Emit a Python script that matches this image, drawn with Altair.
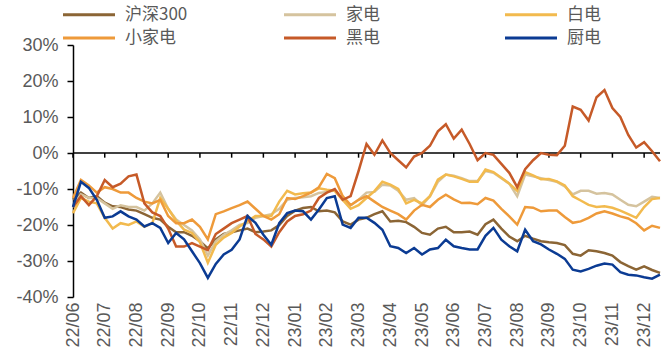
import json
import altair as alt
import pandas as pd

series_names = ["沪深300", "家电", "白电", "小家电", "黑电", "厨电"]
series_colors = ["#8B6535", "#D5C39E", "#F2BA4E", "#EE9A3A", "#C65A28", "#0B3B93"]
month_labels = ["22/06", "22/07", "22/08", "22/09", "22/10", "22/11", "22/12",
                "23/01", "23/02", "23/03", "23/04", "23/05", "23/06", "23/07",
                "23/08", "23/09", "23/10", "23/11", "23/12"]
# sample positions, in months since 22/06 (quarter-month steps)
t_months = [i / 4 for i in range(75)]

hs300 = [-13, -11, -12.5, -12, -13.8, -14.8, -15, -15.7, -16, -17,
         -18, -18.5, -20.5, -22, -22, -23, -24.5, -26.5, -24, -22.5,
         -22, -21.5, -21, -22, -21.8, -21.5, -20, -17.5, -16, -15.3,
         -15, -16.2, -16, -16.5, -19, -19.9, -18.5, -18, -17, -16.2,
         -19, -18.8, -19.2, -20.5, -22.2, -22.7, -21, -20.5, -22, -22,
         -21.8, -22.7, -19.8, -18.5, -21, -23.2, -24.5, -23, -23.8, -24.5,
         -24.8, -25, -25.6, -28, -28.5, -27, -27.3, -27.8, -28.5, -30.3,
         -31.4, -32.4, -31.5, -32.5, -33.3]
jiadian = [-15, -11.5, -12.5, -12.5, -14, -15.5, -14.5, -15, -15, -16,
           -14, -11, -15.5, -18.5, -20, -21.5, -24, -28.5, -24.5, -22.7,
           -21.5, -20, -19.5, -18, -17.5, -17, -15.5, -13, -12.5, -12.3,
           -12, -11.1, -10.8, -10.4, -13, -14.5, -13, -11, -10.8, -8.8,
           -9, -10.5, -13, -12.5, -14.5, -12, -8, -6, -6.3, -7,
           -7.8, -7.8, -5, -5.5, -7, -8.5, -12, -6, -6.5, -7,
           -7.5, -8, -9.3, -11.5, -10.5, -10.5, -11.3, -11.1, -11.5, -13,
           -14.4, -14.8, -13.5, -12.2, -12.5]
baidian = [-16.7, -12.5, -13.5, -14, -18, -21, -19.5, -20, -19, -20.5,
           -19.5, -12.5, -15.5, -18.8, -21.3, -22.2, -24.8, -30.5, -25.5, -23.5,
           -22.2, -20.4, -19, -17.5, -17.5, -17.5, -13.5, -10.5, -11.5, -11.2,
           -11, -9.8, -10.2, -10.5, -13, -15.5, -14.5, -12.5, -10.6, -8,
           -8.8, -10, -14, -13, -14, -12, -7.4, -6, -6.5, -7.2,
           -8, -8, -4.6, -5.3, -6.9, -8.5, -10.5, -5.3, -6.2, -7.3,
           -7.2, -7.9, -9, -12, -13.2, -14.4, -15, -14.8, -15.2, -16,
           -17, -18, -15, -12.8, -12.5]
xiaojiadian = [-12.5, -7.5, -9, -11, -9.5, -10, -11, -11, -12.5, -13.5,
               -14, -13, -17.5, -19.5, -19.5, -18.5, -20.5, -24, -17, -16.2,
               -15.3, -14.5, -13.5, -15.5, -17.5, -18.5, -17, -12.5, -12.8, -12,
               -11, -9.5, -5.8, -7, -12, -14.5, -13, -12, -13.5, -15,
               -16, -17, -18.5, -16, -14.4, -15, -13, -11.6, -12.9, -13.9,
               -13.8, -14.2, -12.5, -13.2, -15.5, -17.6, -19.9, -15, -15.2, -16.2,
               -16, -16, -17.8, -19.4, -19, -18, -16.8, -16.2, -16.8, -17.6,
               -18.2, -19.5, -21.5, -20.2, -20.8]
heidian = [-15, -12, -14.5, -12, -7.5, -9.5, -8.5, -6.5, -6, -14,
           -16.5, -17.5, -21, -26, -26, -25, -26, -27, -22.5, -21,
           -19.5, -18.5, -17.5, -22.5, -24, -26, -22, -19, -17.5, -17,
           -16, -12.5, -11, -10, -13, -12, -5, 2.5, -0.5, 3.5,
           0, -2, -4, -1, 0, 2, 6, 8, 4, 6.5,
           2.5, -2, 0, -0.5, -3, -5.5, -9.5, -4.5, -2, 0,
           -0.5, -0.6, 2, 12.9, 12, 9, 15.5, 17.5, 12.5, 10,
           5, 1.5, 3, 0.5, -2.3]
chudian = [-15, -8, -9.7, -13, -18, -17.6, -16.2, -17.6, -18.5, -20.4,
           -19.5, -20.8, -25, -22.2, -24, -27.3, -30.6, -34.7, -30.8, -28.2,
           -26.9, -24, -17.5, -19.4, -22.7, -25.5, -19.5, -16.7, -16, -16.2,
           -18.5, -15.7, -12.5, -12, -19.9, -20.8, -18, -18, -19.4, -21.3,
           -25.9, -26.4, -27.8, -26.4, -28.2, -26.8, -26.4, -24.1, -25.9, -26.4,
           -26.8, -26.8, -23, -20.8, -24.1, -25.9, -27.3, -21.3, -24.5, -25.4,
           -26.8, -28, -29.4, -32.4, -32.9, -32.2, -31.3, -30.7, -31, -33.1,
           -33.8, -34, -34.5, -34.9, -33.8]

y_ticks = [-40, -30, -20, -10, 0, 10, 20, 30]

all_series = [hs300, jiadian, baidian, xiaojiadian, heidian, chudian]
rows = []
for name, vals in zip(series_names, all_series):
    assert len(vals) == len(t_months), name
    for t, v in zip(t_months, vals):
        rows.append({"series": name, "t": t, "v": v})
df = pd.DataFrame(rows)

label_color = "#595959"
x_scale = alt.Scale(domain=[0, 18.5], nice=False, zero=False)
y_scale = alt.Scale(domain=[-40, 30], nice=False, zero=False)

x_axis = alt.Axis(values=list(range(len(month_labels))),
                  labelExpr=json.dumps(month_labels) + "[datum.value]",
                  labelAngle=-90, domain=False, ticks=False, grid=False,
                  labelOverlap=False, labelFlush=False,
                  labelPadding=5, labelFontSize=18, labelColor=label_color,
                  labelFont="Liberation Sans", title=None)
y_axis = alt.Axis(values=y_ticks, labelExpr="datum.value + '%'",
                  labelOverlap=False, labelFlush=False,
                  grid=False, domainColor="black", domainWidth=1.5,
                  tickColor="black", tickWidth=1.5, tickSize=6,
                  labelPadding=9, labelFontSize=18, labelColor=label_color,
                  labelFont="Liberation Sans", title=None)

lines = alt.Chart(df).mark_line(strokeWidth=2.5).encode(
    x=alt.X("t:Q", scale=x_scale, axis=x_axis),
    y=alt.Y("v:Q", scale=y_scale, axis=y_axis),
    color=alt.Color("series:N",
                    scale=alt.Scale(domain=series_names, range=series_colors),
                    sort=series_names,
                    legend=alt.Legend(title=None, orient="none", legendX=7.5, legendY=-39,
                                      columns=3, direction="horizontal",
                                      symbolType="M-5.2,0H5.2", symbolSize=100,
                                      symbolStrokeWidth=3, labelFontSize=17,
                                      labelFont="Noto Sans CJK SC", labelColor=label_color,
                                      labelOffset=27.5, columnPadding=90, rowPadding=5.5,
                                      gridAlign="all", padding=0)),
)

zero_line = alt.Chart(pd.DataFrame({"v": [0]})).mark_rule(
    color="black", strokeWidth=1.5).encode(y=alt.Y("v:Q", scale=y_scale, axis=y_axis))

tick_df = pd.DataFrame({"t": list(range(len(month_labels)))})
ticks = alt.Chart(tick_df).mark_rule(color="black", strokeWidth=1.5).encode(
    x=alt.X("t:Q", scale=x_scale, axis=x_axis),
    y=alt.YDatum(0, scale=y_scale, axis=y_axis),
    y2=alt.Y2Datum(-1.3))

chart = alt.layer(zero_line, ticks, lines).properties(
    width=587, height=252,
    padding={"left": 73, "top": 45, "right": 12, "bottom": 63},
    autosize="none",
).configure_view(strokeWidth=0).configure_axis(labelOverlap=False)

chart.save("out.html", embed_options={"renderer": "svg", "actions": False})
